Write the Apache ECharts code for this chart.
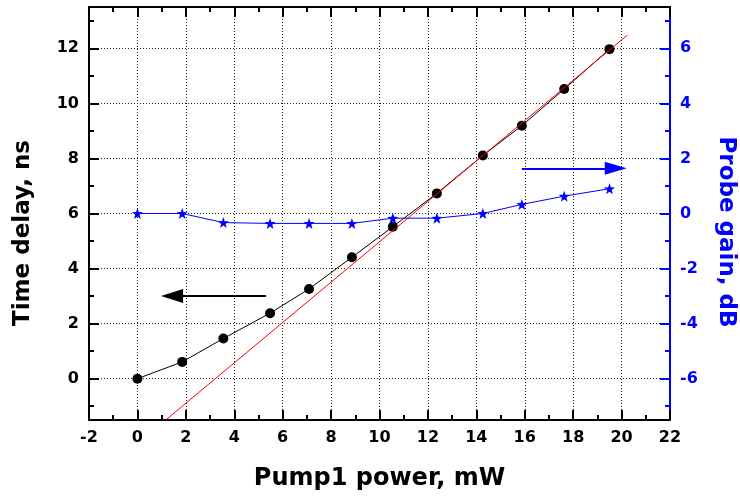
<!DOCTYPE html>
<html>
<head>
<meta charset="utf-8">
<script src="https://cdn.jsdelivr.net/npm/echarts@6/dist/echarts.min.js"></script>
<style>html,body{margin:0;padding:0;background:#fff}#c{width:740px;height:496px}</style>
</head>
<body>
<div id="c"></div>
<script>
// Data
const pumpPower = [0, 1.85, 3.55, 5.48, 7.09, 8.86, 10.55, 12.37, 14.27, 15.88, 17.63, 19.5];
const timeDelay = [0, 0.61, 1.46, 2.38, 3.26, 4.41, 5.52, 6.73, 8.11, 9.19, 10.52, 11.97];
const probeGain = [0, 0, -0.33, -0.36, -0.36, -0.36, -0.17, -0.17, 0, 0.33, 0.63, 0.9];
const fitLineX = [1.17, 20.24];
const fitLineY = [-1.5, 12.48];
const leftArrowX = [5.31, 1.43], leftArrowY = [3.0, 3.0];
const rightArrowX = [15.88, 19.76], rightArrowY = [1.64, 1.64];
const leftMajor = [0, 2, 4, 6, 8, 10, 12];
const leftMinor = [-1, 1, 3, 5, 7, 9, 11, 13];
const rightMajor = [-6, -4, -2, 0, 2, 4, 6];
const rightMinor = [-7, -5, -3, -1, 1, 3, 5, 7];

const FONT = 'DejaVu Sans';
const BLUE = '#0000ff';
const star = 'path://M0,-10 L2.35,-3.24 L9.51,-3.09 L3.8,1.24 L5.88,8.09 L0,4 L-5.88,8.09 L-3.8,1.24 L-9.51,-3.09 L-2.35,-3.24 Z';

const chart = echarts.init(document.getElementById('c'), null, {renderer: 'canvas'});
const zip = (a, b) => a.map((v, i) => [v, b[i]]);
const blackTick = {color: '#000', width: 2};
const blueTick = {color: BLUE, width: 2};

chart.setOption({
  backgroundColor: '#fff',
  animation: false,
  grid: {left: 89, right: 70, top: 7, bottom: 74, containLabel: false},
  xAxis: [
    {
      type: 'value', min: -2, max: 22, interval: 2, position: 'bottom',
      axisLine: {show: true, onZero: false, lineStyle: {color: '#000', width: 2}},
      axisTick: {show: true, inside: true, length: 10, lineStyle: blackTick},
      minorTick: {show: true, splitNumber: 2, length: 5, lineStyle: blackTick},
      axisLabel: {color: '#000', fontFamily: FONT, fontWeight: 'bold', fontSize: 16, margin: 10},
      splitLine: {show: true, showMinLine: false, showMaxLine: false, lineStyle: {color: '#222', type: [1, 2], width: 1}},
      name: 'Pump1 power, mW', nameLocation: 'middle', nameGap: 47,
      nameTextStyle: {color: '#000', fontFamily: FONT, fontWeight: 'bold', fontSize: 24}
    },
    {
      type: 'value', min: -2, max: 22, interval: 2, position: 'top',
      axisLine: {show: true, onZero: false, lineStyle: {color: '#000', width: 2}},
      axisTick: {show: true, inside: true, length: 10, lineStyle: blackTick},
      minorTick: {show: true, splitNumber: 2, length: 5, lineStyle: blackTick},
      axisLabel: {show: false},
      splitLine: {show: false}
    }
  ],
  yAxis: [
    {
      type: 'value', min: -1.5, max: 13.5, position: 'left',
      axisLine: {show: true, onZero: false, lineStyle: {color: '#000', width: 2}},
      axisTick: {show: true, inside: true, length: 10, customValues: leftMajor, lineStyle: blackTick},
      axisLabel: {color: '#000', fontFamily: FONT, fontWeight: 'bold', fontSize: 16, margin: 10, customValues: leftMajor},
      splitLine: {show: true, lineStyle: {color: '#222', type: [1, 2], width: 1}}
    },
    {
      type: 'value', min: -7.5, max: 7.5, position: 'right',
      axisLine: {show: true, onZero: false, lineStyle: {color: BLUE, width: 2}},
      axisTick: {show: true, inside: true, length: 10, customValues: rightMajor, lineStyle: blueTick},
      axisLabel: {color: BLUE, fontFamily: FONT, fontWeight: 'bold', fontSize: 16, margin: 10, customValues: rightMajor},
      splitLine: {show: false}
    },
    {
      type: 'value', min: -1.5, max: 13.5, position: 'left', offset: 0,
      axisLine: {show: false, onZero: false},
      axisTick: {show: true, inside: true, length: 5, customValues: leftMinor, lineStyle: blackTick},
      axisLabel: {show: false},
      splitLine: {show: false}
    },
    {
      type: 'value', min: -7.5, max: 7.5, position: 'right', offset: 0,
      axisLine: {show: false, onZero: false},
      axisTick: {show: true, inside: true, length: 5, customValues: rightMinor, lineStyle: blueTick},
      axisLabel: {show: false},
      splitLine: {show: false}
    }
  ],
  graphic: [
    {type: 'text', x: 23, y: 233, rotation: Math.PI / 2,
      style: {text: 'Time delay, ns', fill: '#000', font: 'bold 23px "DejaVu Sans"', align: 'center', verticalAlign: 'middle'}},
    {type: 'text', x: 726, y: 232, rotation: -Math.PI / 2,
      style: {text: 'Probe gain, dB', fill: BLUE, font: 'bold 23px "DejaVu Sans"', align: 'center', verticalAlign: 'middle'}}
  ],
  series: [
    {
      name: 'Time delay', type: 'line', xAxisIndex: 0, yAxisIndex: 0,
      data: zip(pumpPower, timeDelay),
      symbol: 'circle', symbolSize: 10,
      itemStyle: {color: '#000'}, lineStyle: {color: '#000', width: 1}, z: 3
    },
    {
      name: 'Probe gain', type: 'line', xAxisIndex: 0, yAxisIndex: 1,
      data: zip(pumpPower, probeGain),
      symbol: star, symbolSize: 11,
      itemStyle: {color: BLUE}, lineStyle: {color: BLUE, width: 1}, z: 3
    },
    {
      name: 'Fit', type: 'line', xAxisIndex: 0, yAxisIndex: 0,
      data: zip(fitLineX, fitLineY), symbol: 'none',
      lineStyle: {color: '#ff0000', width: 1}, z: 4
    },
    {
      name: 'arrowL', type: 'line', xAxisIndex: 0, yAxisIndex: 0, data: [], z: 4,
      markLine: {
        silent: true, animation: false, label: {show: false},
        lineStyle: {color: '#000', width: 2, type: 'solid'},
        data: [[
          {coord: [leftArrowX[0], leftArrowY[0]], symbol: 'none'},
          {coord: [leftArrowX[1], leftArrowY[1]], symbol: 'triangle', symbolSize: [14, 22]}
        ]]
      }
    },
    {
      name: 'arrowR', type: 'line', xAxisIndex: 0, yAxisIndex: 1, data: [], z: 4,
      markLine: {
        silent: true, animation: false, label: {show: false},
        lineStyle: {color: BLUE, width: 2, type: 'solid'},
        data: [[
          {coord: [rightArrowX[0], rightArrowY[0]], symbol: 'none'},
          {coord: [rightArrowX[1], rightArrowY[1]], symbol: 'triangle', symbolSize: [13, 22]}
        ]]
      }
    }
  ]
});
</script>
</body>
</html>
